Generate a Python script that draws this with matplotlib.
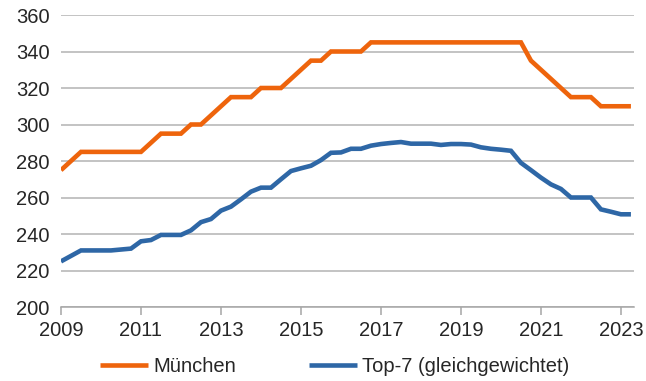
import matplotlib.pyplot as plt
import numpy as np

plt.rcParams["font.family"] = ["Liberation Sans", "DejaVu Sans"]

# quarterly index values, Q1 2009 .. Q2 2023
start_year = 2009
muenchen = [
    275, 280, 285, 285,
    285, 285, 285, 285,
    285, 290, 295, 295,
    295, 300, 300, 305,
    310, 315, 315, 315,
    320, 320, 320, 325,
    330, 335, 335, 340,
    340, 340, 340, 345,
    345, 345, 345, 345,
    345, 345, 345, 345,
    345, 345, 345, 345,
    345, 345, 345, 335,
    330, 325, 320, 315,
    315, 315, 310, 310,
    310, 310,
]
top7 = [
    225, 228, 231, 231,
    231, 231, 231.5, 232,
    236, 236.7, 239.5, 239.5,
    239.5, 242, 246.5, 248.2,
    252.8, 255, 259, 263.2,
    265.4, 265.4, 270, 274.5,
    276, 277.4, 280.5, 284.5,
    284.7, 286.7, 286.7, 288.4,
    289.3, 289.9, 290.4, 289.5,
    289.5, 289.5, 288.8, 289.3,
    289.3, 289, 287.5, 286.7,
    286.2, 285.6, 279, 275,
    270.9, 267.2, 264.7, 260,
    260, 260, 253.5, 252.2,
    250.8, 250.8,
]
labels = ["München", "Top-7 (gleichgewichtet)"]
colors = ["#EE640C", "#2E67A6"]

x = start_year + np.arange(len(muenchen)) / 4

fig = plt.figure(figsize=(6.46, 3.81), dpi=100)
ax = fig.add_axes([0.0944, 0.1942, 0.8866, 0.7664])

for series, label, color in zip([muenchen, top7], labels, colors):
    ax.plot(x, series, color=color, lw=3.3, label=label,
            solid_joinstyle="miter", solid_capstyle="butt", zorder=3)

ax.set_xlim(2009, 2023.32)
ax.set_ylim(200, 360)
ax.set_yticks(np.arange(200, 361, 20))
ax.set_xticks(np.arange(2009, 2024, 2))

ax.grid(axis="y", color="#b3b3b3", lw=1.1)
ax.set_axisbelow(True)
for side in ["left", "right", "top"]:
    ax.spines[side].set_visible(False)
ax.spines["bottom"].set_color("#a6a6a6")
ax.spines["bottom"].set_linewidth(1.1)

ax.tick_params(axis="y", length=0, pad=8, labelsize=14.5, labelcolor="#262626")
ax.tick_params(axis="x", direction="out", length=6, width=1.1, color="#a6a6a6",
               pad=4, labelsize=14.5, labelcolor="#262626")

fig.legend(loc="center", bbox_to_anchor=(0.518, 0.037), ncol=2, frameon=False,
           fontsize=14.5, handlelength=2.4, handletextpad=0.25, columnspacing=3.6,
           labelcolor="#262626")

fig.savefig("out.png", dpi=100)
